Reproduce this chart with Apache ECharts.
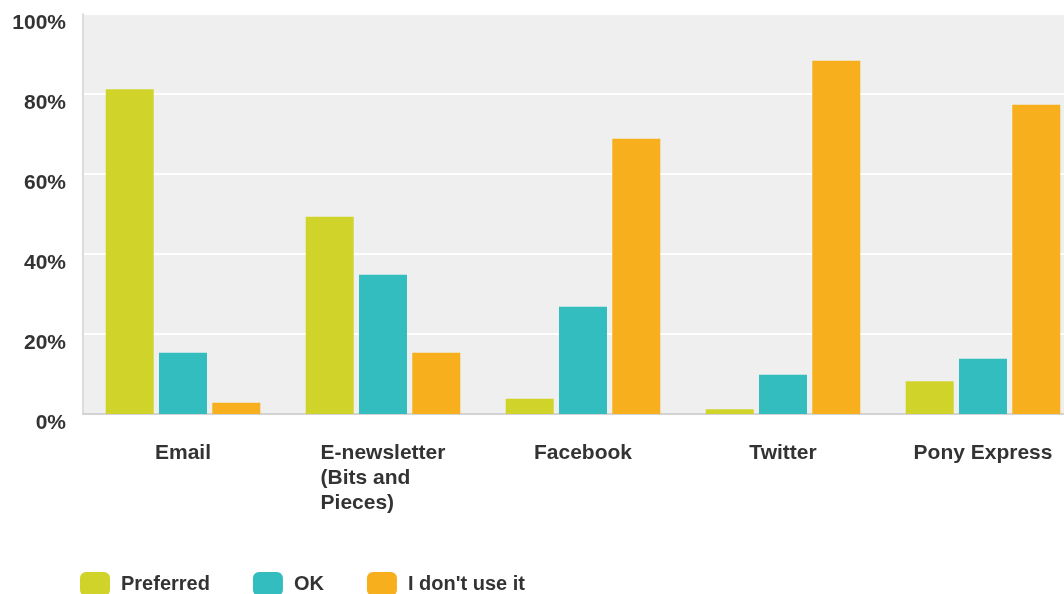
<!DOCTYPE html>
<html>
<head>
<meta charset="utf-8">
<script src="https://cdn.jsdelivr.net/npm/echarts@6/dist/echarts.min.js"></script>
<style>html,body{margin:0;padding:0;background:#fff;overflow:hidden;width:1064px;height:594px;}#c{width:1083px;height:594px;}</style>
</head>
<body>
<div id="c"></div>
<script>
var categories = ['Email', 'E-newsletter\n(Bits and\nPieces)', 'Facebook', 'Twitter', 'Pony Express'];
var seriesNames = ['Preferred', 'OK', "I don't use it"];
var preferred = [81.2, 49.3, 3.8, 1.2, 8.2];
var ok = [15.3, 34.8, 26.8, 9.8, 13.8];
var dontUse = [2.8, 15.3, 68.8, 88.3, 77.3];
var yTicks = [0, 20, 40, 60, 80, 100];
var colors = ['#D0D42A', '#33BDBE', '#F8AF1E'];

var font = '"Liberation Sans", Arial, sans-serif';
var fs = 21;
var chart = echarts.init(document.getElementById('c'), null, {renderer: 'canvas'});
var data = [preferred, ok, dontUse];
chart.setOption({
  animation: false,
  color: colors,
  grid: {left: 83, right: 0, top: 14, bottom: 180, containLabel: false,
         show: true, backgroundColor: '#EFEFEF', borderWidth: 0},
  legend: {
    left: 80, top: 572, itemWidth: 30, itemHeight: 24, itemGap: 43, padding: 0,
    icon: 'roundRect',
    textStyle: {fontFamily: font, fontWeight: 'bold', fontSize: 20, color: '#333', padding: [0,0,0,6]},
    data: seriesNames
  },
  xAxis: {
    type: 'category',
    data: categories,
    axisLine: {show: true, lineStyle: {color: '#d3d3d3', width: 2}},
    axisTick: {show: false},
    axisLabel: {
      interval: 0, margin: 27,
      fontFamily: font, fontWeight: 'bold', fontSize: fs, color: '#333',
      formatter: function (v) {
        return v.split('\n').map(function (l) { return '{a|' + l + '}'; }).join('\n');
      },
      rich: {a: {align: 'left', fontFamily: font, fontWeight: 'bold', fontSize: fs, color: '#333', lineHeight: 25}}
    }
  },
  yAxis: {
    type: 'value', min: 0, max: 100, interval: 20,
    axisLine: {show: true, lineStyle: {color: '#dcdcdc', width: 2}},
    axisTick: {show: false},
    splitLine: {show: true, lineStyle: {color: '#ffffff', width: 2}},
    axisLabel: {
      margin: 17, verticalAlign: 'top', lineHeight: 18,
      fontFamily: font, fontWeight: 'bold', fontSize: fs, color: '#333',
      formatter: function (v) { return yTicks.indexOf(v) >= 0 ? v + '%' : ''; }
    }
  },
  series: seriesNames.map(function (n, i) {
    return {
      name: n, type: 'bar', data: data[i], barWidth: 48, barGap: '11%',
      itemStyle: {color: colors[i]}
    };
  })
});
</script>
</body>
</html>
